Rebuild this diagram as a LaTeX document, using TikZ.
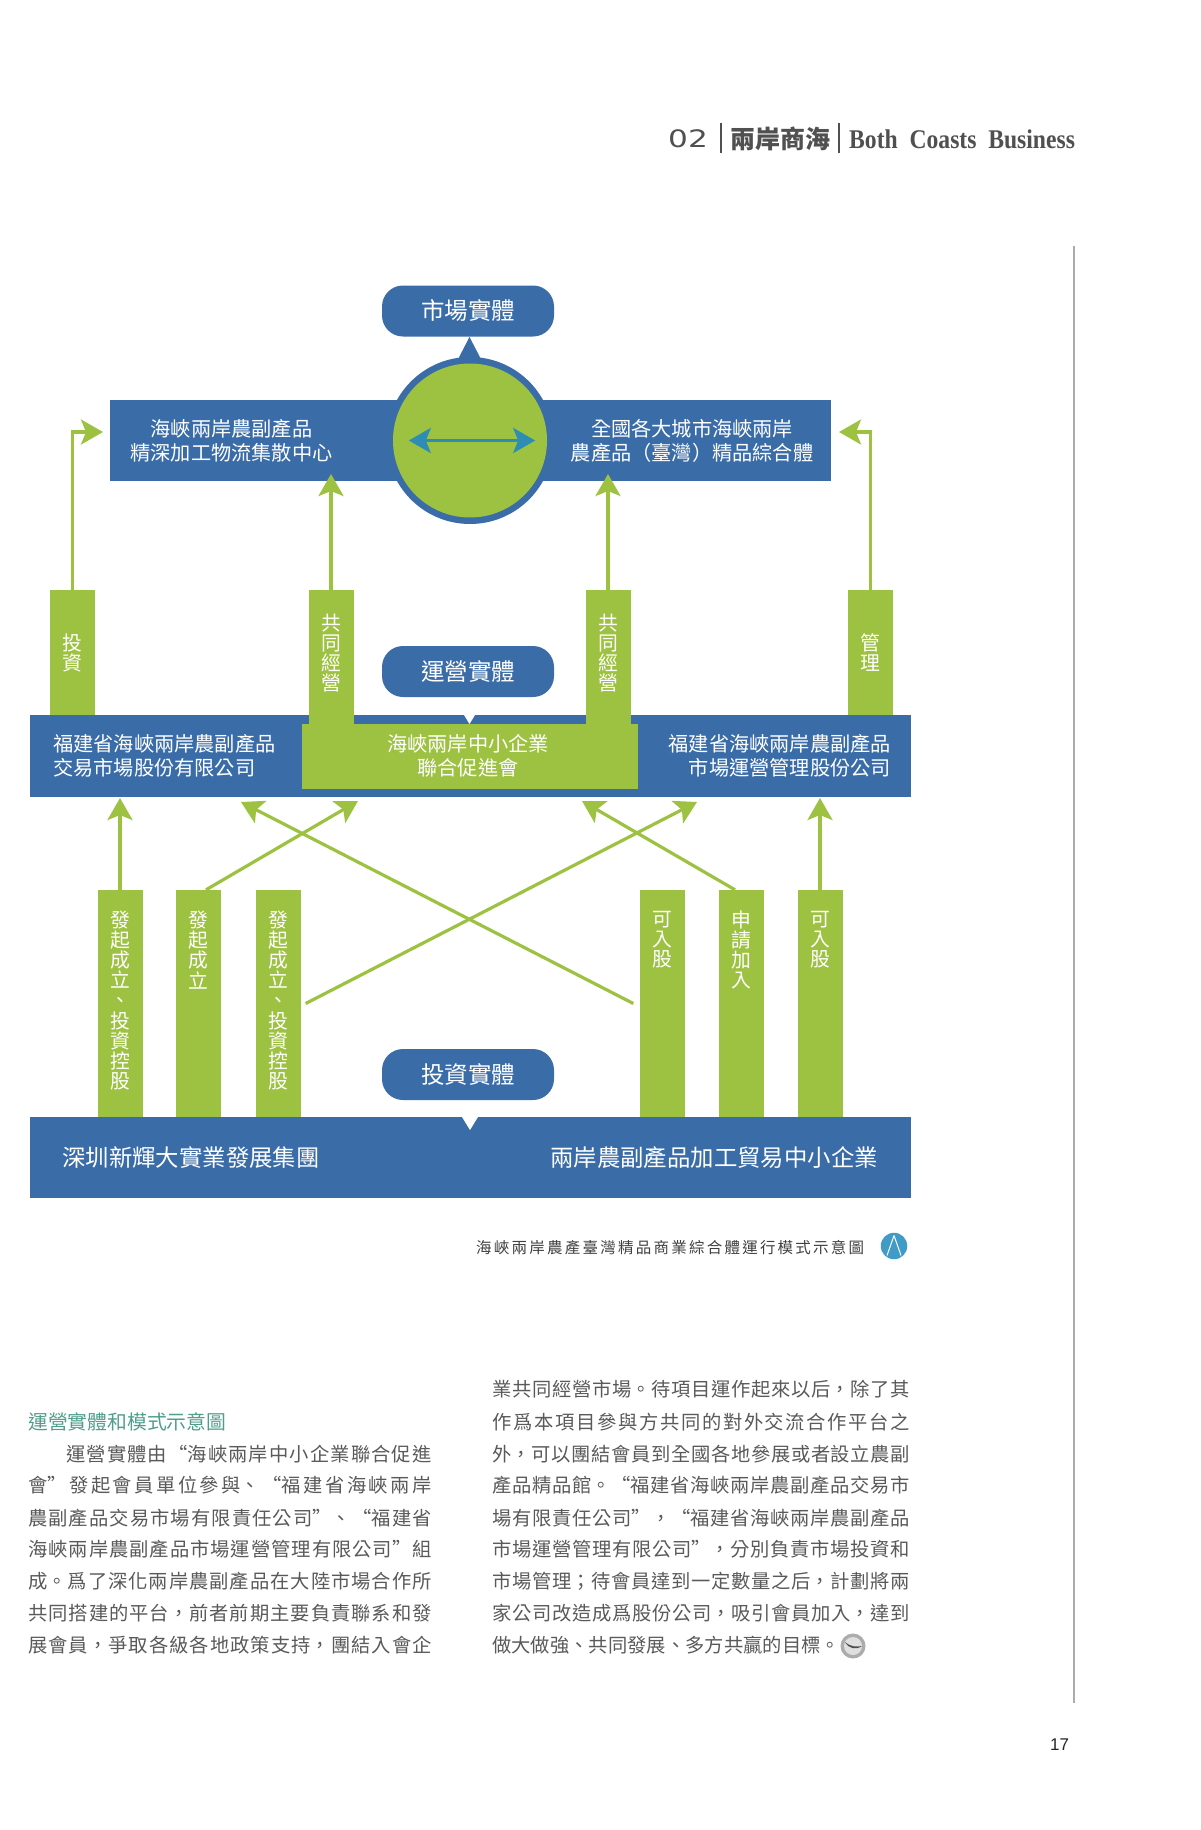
\documentclass[tikz,border=0pt]{standalone}
\usepackage{fontspec}
\usetikzlibrary{arrows.meta}
\setmainfont{Noto Sans CJK TC}
\newfontfamily\headlatin[FakeStretch=0.875]{Liberation Serif}
\newfontfamily\headnum[FakeStretch=1.3]{DejaVu Sans}
\newfontfamily\pagenum{Liberation Sans}
\XeTeXlinebreaklocale "zh"
\XeTeXlinebreakskip=0pt plus 4pt
\definecolor{barblue}{HTML}{3A6CA8}
\definecolor{leafgreen}{HTML}{9DC141}
\definecolor{tealarrow}{HTML}{2E8DB4}
\definecolor{bodygray}{HTML}{5A5A5A}
\definecolor{headgray}{HTML}{505050}
\definecolor{headteal}{HTML}{4F9E8C}
\definecolor{logoblue}{HTML}{409BC6}
\definecolor{rulegray}{HTML}{ABABAB}
\begin{document}
\begin{tikzpicture}[x=1pt, y=-1pt,
        bluebar/.style = {shape=rectangle, fill=barblue, inner sep=0pt},
        greenbar/.style = {shape=rectangle, fill=leafgreen, inner sep=0pt},
        pill/.style = {shape=rectangle, rounded corners=21pt, fill=barblue, text=white,
        minimum width=172pt, minimum height=51pt, inner sep=0pt,
        font=\fontsize{23.5}{26}\selectfont},
        whitetext/.style = {text=white, inner sep=0pt, align=center,
        font=\fontsize{20.2}{24.5}\selectfont},
        vtext/.style = {text=white, inner sep=0pt, align=center,
        font=\fontsize{19.8}{20.1}\selectfont},
        bigtext/.style = {text=white, inner sep=0pt,
        font=\fontsize{23.4}{26}\selectfont},
        leftline/.style = {anchor=west, inner sep=0pt, text=bodygray, text width=403.5pt,
        align=justify, text height=16pt, text depth=3pt,
        font=\fontsize{19.3}{24}\selectfont,
        execute at begin node={\parfillskip=0pt\relax\tolerance=9999\relax}},
        rightline/.style = {leftline, text width=418pt},
        flow/.style = {draw=leafgreen, line width=3.2pt,
        -{Stealth[length=22pt,width=25pt,inset=5pt]}}]
    \useasboundingbox (0,0) rectangle (1200,1830);
    \fill[white] (0,0) rectangle (1200,1830);

    \node[text=headgray, inner sep=0pt, font=\headnum\fontsize{24}{26}\selectfont] (chapnum) at (688,139) {02};
    \node[text=headgray, inner sep=0pt, font=\fontsize{25}{27}\selectfont\bfseries] (chaptitle) at (780.5,139) {兩岸商海};
    \node[text=headgray, inner sep=0pt, anchor=west, font=\headlatin\fontsize{27}{29}\selectfont\bfseries] (chaplatin) at (849,139) {Both~~Coasts~~Business};
    \draw[headgray, line width=1.6pt] (721,123) -- (721,153);
    \draw[headgray, line width=1.6pt] (839,123) -- (839,153);
    \draw[rulegray, line width=1.5pt] (1074,246) -- (1074,1703);

    \fill[barblue] (469.5,337) -- (455,365) -- (484,365) -- cycle;
    \node[bluebar, minimum width=721pt, minimum height=81pt] (marketbar) at (470.5,440.5) {};
    \node[shape=circle, fill=barblue, minimum size=167pt, inner sep=0pt] (ringout) at (470,440.5) {};
    \node[shape=circle, fill=leafgreen, minimum size=154pt, inner sep=0pt] (ringin) at (470,440.5) {};
    \draw[tealarrow, line width=3.2pt, {Stealth[length=22pt,width=25pt,inset=5pt]}-{Stealth[length=22pt,width=25pt,inset=5pt]}]
        ([xshift=16pt]ringin.west) -- ([xshift=-12pt]ringin.east);
    \node[pill] (marketpill) at (468,311) {市場實體};
    \node[whitetext] (market1) at (231.5,441) {海峽兩岸農副產品\\精深加工物流集散中心};
    \node[whitetext] (market2) at (692,441) {全國各大城市海峽兩岸\\農產品（臺灣）精品綜合體};

    \node[bluebar, minimum width=881pt, minimum height=82pt] (midbar) at (470.5,756) {};
    \fill[white] (464,715) -- (475,715) -- (469.5,724) -- cycle;
    \node[greenbar, minimum width=336pt, minimum height=65pt] (midgreen) at (470,756.5) {};
    \node[greenbar, minimum width=45pt, minimum height=125pt] (opinvest) at (72.5,652.5) {};
    \node[greenbar, minimum width=45pt, minimum height=135pt] (opjoint1) at (331,657.5) {};
    \node[greenbar, minimum width=45pt, minimum height=135pt] (opjoint2) at (608,657.5) {};
    \node[greenbar, minimum width=45pt, minimum height=125pt] (opmanage) at (870.5,652.5) {};
    \node[vtext] (opinvesttext) at (72.5,653) {投\\資};
    \node[vtext] (opjoint1text) at (331,653) {共\\同\\經\\營};
    \node[vtext] (opjoint2text) at (608,653) {共\\同\\經\\營};
    \node[vtext] (opmanagetext) at (870.5,653) {管\\理};
    \node[pill] (oppill) at (468,671.5) {運營實體};
    \node[whitetext, align=left, anchor=west] (midtext1) at (53,756) {福建省海峽兩岸農副產品\\交易市場股份有限公司};
    \node[whitetext] (midtext2) at (468,756) {海峽兩岸中小企業\\聯合促進會};
    \node[whitetext, align=right, anchor=east] (midtext3) at (891,756) {福建省海峽兩岸農副產品\\市場運營管理股份公司};

    \node[bluebar, minimum width=881pt, minimum height=81pt] (basebar) at (470.5,1157.5) {};
    \fill[white] (462,1117) -- (478,1117) -- (470,1130) -- cycle;
    \node[greenbar, minimum width=45pt, minimum height=227pt] (fund1) at (120,1003.5) {};
    \node[greenbar, minimum width=45pt, minimum height=227pt] (fund2) at (198.5,1003.5) {};
    \node[greenbar, minimum width=45pt, minimum height=227pt] (fund3) at (278,1003.5) {};
    \node[greenbar, minimum width=45pt, minimum height=227pt] (fund4) at (662,1003.5) {};
    \node[greenbar, minimum width=45pt, minimum height=227pt] (fund5) at (741,1003.5) {};
    \node[greenbar, minimum width=45pt, minimum height=227pt] (fund6) at (820,1003.5) {};
    \node[vtext] (fund1text) at (120,1000.4) {發\\起\\成\\立\\、\\投\\資\\控\\股};
    \node[vtext] (fund2text) at (198.5,950) {發\\起\\成\\立};
    \node[vtext] (fund3text) at (278,1000.4) {發\\起\\成\\立\\、\\投\\資\\控\\股};
    \node[vtext] (fund4text) at (662,940) {可\\入\\股};
    \node[vtext] (fund5text) at (741,950) {申\\請\\加\\入};
    \node[vtext] (fund6text) at (820,940) {可\\入\\股};
    \node[pill] (fundpill) at (468,1074.5) {投資實體};
    \node[bigtext, anchor=west] (basetext1) at (62,1157.5) {深圳新輝大實業發展集團};
    \node[bigtext, anchor=east] (basetext2) at (878,1157.5) {兩岸農副產品加工貿易中小企業};

    \coordinate (tip1) at (103,432);
    \coordinate (tip2) at (331,474);
    \coordinate (tip3) at (608,474);
    \coordinate (tip4) at (839,432);
    \coordinate (tip5) at (120,798);
    \coordinate (tip6) at (358,801);
    \coordinate (tip7) at (697,802);
    \coordinate (tip8) at (241,802);
    \coordinate (tip9) at (582,801);
    \coordinate (tip10) at (820,798);
    \draw[flow] (opinvest.north) |- (tip1);
    \draw[flow] (opjoint1.north |- opinvest.north) -- (tip2);
    \draw[flow] (opjoint2.north |- opinvest.north) -- (tip3);
    \draw[flow] (opmanage.north) |- (tip4);
    \draw[flow] (fund1.north) -- (tip5);
    \draw[flow] ([xshift=7.5pt]fund2.north) -- (tip6);
    \draw[flow] ([xshift=5pt]fund3.east) -- (tip7);
    \draw[flow] ([xshift=-6pt]fund4.west) -- (tip8);
    \draw[flow] ([xshift=-6pt]fund5.north) -- (tip9);
    \draw[flow] (fund6.north) -- (tip10);

    \node[leftline, text=black!75, text width=388pt, text height=13pt, font=\fontsize{15.5}{18}\selectfont] (caption) at (476,1248.3) {海峽兩岸農產臺灣精品商業綜合體運行模式示意圖};
    \node[shape=circle, fill=logoblue, minimum size=26.5pt, inner sep=0pt] (logo) at (894,1246) {};
    \draw[white, line width=1pt] ([yshift=-3pt]logo.north) -- ([xshift=-7pt,yshift=4pt]logo.south);
    \draw[white, line width=1pt] ([yshift=-3pt]logo.north) -- ([xshift=7pt,yshift=4pt]logo.south);

    \node[anchor=west, inner sep=0pt, text=headteal, font=\fontsize{19.8}{24}\selectfont] (subhead) at (28,1422) {運營實體和模式示意圖};
    \node[leftline] (left1) at (28,1454.6) {\hspace*{38pt}運營實體由“海峽兩岸中小企業聯合促進};
    \node[leftline] (left2) at (28,1486.3) {會”發起會員單位參與、“福建省海峽兩岸};
    \node[leftline] (left3) at (28,1518.8) {農副產品交易市場有限責任公司”、“福建省};
    \node[leftline] (left4) at (28,1550.3) {海峽兩岸農副產品市場運營管理有限公司”組};
    \node[leftline] (left5) at (28,1581.8) {成。爲了深化兩岸農副產品在大陸市場合作所};
    \node[leftline] (left6) at (28,1614.3) {共同搭建的平台，前者前期主要負責聯系和發};
    \node[leftline] (left7) at (28,1645.9) {展會員，爭取各級各地政策支持，團結入會企};
    \node[rightline] (right1) at (492,1390.3) {業共同經營市場。待項目運作起來以后，除了其};
    \node[rightline] (right2) at (492,1423.3) {作爲本項目參與方共同的對外交流合作平台之};
    \node[rightline] (right3) at (492,1454.6) {外，可以團結會員到全國各地參展或者設立農副};
    \node[rightline] (right4) at (492,1486.3) {產品精品館。“福建省海峽兩岸農副產品交易市};
    \node[rightline] (right5) at (492,1518.8) {場有限責任公司”，“福建省海峽兩岸農副產品};
    \node[rightline] (right6) at (492,1550.3) {市場運營管理有限公司”，分別負責市場投資和};
    \node[rightline] (right7) at (492,1581.8) {市場管理；待會員達到一定數量之后，計劃將兩};
    \node[rightline] (right8) at (492,1614.3) {家公司改造成爲股份公司，吸引會員加入，達到};
    \node[leftline, text width=348pt] (right9) at (492,1645.9) {做大做強、共同發展、多方共贏的目標。};

    \node[shape=circle, fill=gray!65, minimum size=25pt, inner sep=0pt] (seal) at (853,1646) {};
    \node[shape=circle, fill=gray!25, minimum size=18pt, inner sep=0pt] (sealin) at (853,1646) {};
    \fill[black!70] (845,1642) .. controls (851,1647) and (856,1647) .. (862,1646) .. controls (856,1650) and (849,1649) .. (845,1642);

    \node[text=black!85, inner sep=0pt, font=\pagenum\fontsize{17}{19}\selectfont] (pageno) at (1059.5,1745) {17};
\end{tikzpicture}
\end{document}
